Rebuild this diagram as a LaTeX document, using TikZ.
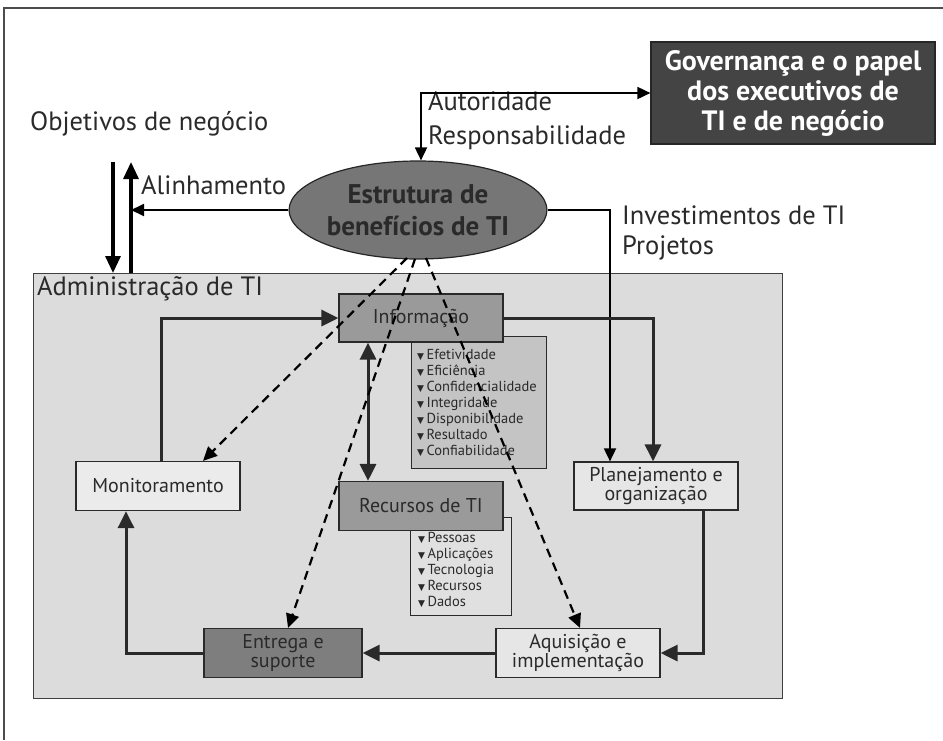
\documentclass[tikz,border=0pt]{standalone}
\usepackage{fontspec}
\setmainfont{PT Sans}
\newfontfamily\symfont{DejaVu Sans}
\usetikzlibrary{arrows.meta,calc,shapes.geometric}
\definecolor{admfill}{HTML}{DCDCDC}
\definecolor{govfill}{HTML}{444444}
\definecolor{ellfill}{HTML}{767676}
\definecolor{midfill}{HTML}{9A9A9A}
\definecolor{ilfill}{HTML}{C4C4C4}
\definecolor{rlfill}{HTML}{E0E0E0}
\definecolor{ltfill}{HTML}{EBEBEB}
\definecolor{plfill}{HTML}{E6E6E6}
\definecolor{entfill}{HTML}{7E7E7E}
\definecolor{ink}{HTML}{2A2A2A}
\newcommand\mytri{{\symfont\fontsize{9}{9}\selectfont ▼}}
\begin{document}
\begin{tikzpicture}[x=1pt,y=-1pt,
  lbl/.style={inner sep=0pt, text=ink, font=\fontsize{26.5}{28}\selectfont, text height=0.72em, text depth=0.2em},
  boxx/.style={draw=ink, line width=1.2pt, inner sep=0pt, align=center, text=ink, font=\fontsize{20}{20}\selectfont},
  item/.style={inner sep=0pt, anchor=west, text=ink, font=\fontsize{14.5}{16}\selectfont, text height=0.72em, text depth=0.2em},
  conn/.style={line width=3pt, draw=ink, -{Triangle[length=17pt,width=16pt]}},
  bothconn/.style={line width=3pt, draw=ink, {Triangle[length=17pt,width=16pt]}-{Triangle[length=17pt,width=16pt]}},
  thinar/.style={line width=1.8pt, draw=black, -{Triangle[length=13pt,width=12pt]}},
  heavy/.style={line width=3.2pt, draw=black, -{Triangle[length=17pt,width=15pt]}},
  dsh/.style={line width=2.2pt, draw=black, dash pattern=on 9pt off 6pt, -{Triangle[length=14pt,width=13pt]}}
]
\useasboundingbox (0,0) rectangle (943,740);
\fill[white] (0,0) rectangle (943,740);
\draw[line width=1.2pt, black!70] (4,740) -- (4,8) -- (943,8);

% admin area
\node[draw=black!75, fill=admfill, line width=1.2pt, minimum width=749pt, minimum height=425pt, anchor=north west, inner sep=0pt] (admin) at (33,273) {};
\node[lbl, anchor=west] (adm) at (37,293) {Administração de TI};

% governance
\node[draw=black!85, fill=govfill, line width=1.2pt, minimum width=284pt, minimum height=102pt, inner sep=0pt, align=center, text=white, font=\bfseries\fontsize{28}{30}\selectfont] (gov) at (793,93) {Governança e o papel\\dos executivos de\\TI e de negócio};

% ellipse
\node[ellipse, draw=black!85, fill=ellfill, line width=1.2pt, minimum width=252pt, minimum height=98pt, inner sep=0pt, align=center, text=ink, font=\bfseries\fontsize{27}{32}\selectfont] (ell) at (418,210) {Estrutura de\\benefícios de TI};

% lists (behind boxes)
\node[draw=ink, fill=ilfill, line width=1.2pt, minimum width=135pt, minimum height=132pt, anchor=north west, inner sep=0pt] (ilist) at (411,336) {};
\node[draw=ink, fill=rlfill, line width=1.2pt, minimum width=101pt, minimum height=98pt, anchor=north west, inner sep=0pt] (rlist) at (410,517) {};
\foreach \t [count=\i] in {Efetividade,Eficiência,Confidencialidade,Integridade,Disponibilidade,Resultado,Confiabilidade}
  \node[item, name=ii\i] at (417,341+16*\i) {\mytri\,\t};
\foreach \t [count=\i] in {Pessoas,Aplicações,Tecnologia,Recursos,Dados}
  \node[item, name=ri\i] at (418,524+16*\i) {\mytri\,\t};

% boxes
\node[boxx, fill=midfill, minimum width=164pt, minimum height=48pt] (info) at (421,318) {Informação};
\node[boxx, fill=midfill, minimum width=164pt, minimum height=49pt] (rec) at (421,506) {Recursos de TI};
\node[boxx, fill=ltfill, minimum width=164pt, minimum height=49pt] (mon) at (158,486) {Monitoramento};
\node[boxx, fill=entfill, minimum width=158pt, minimum height=49pt, font=\fontsize{20}{19}\selectfont] (ent) at (283,653) {Entrega e\\suporte};
\node[boxx, fill=plfill, minimum width=164pt, minimum height=48pt, font=\fontsize{20}{19}\selectfont] (plan) at (656,486) {Planejamento e\\organização};
\node[boxx, fill=plfill, minimum width=164pt, minimum height=49pt, font=\fontsize{20}{19}\selectfont] (aq) at (578,653) {Aquisição e\\implementação};

% labels
\node[lbl, anchor=west] (obj) at (30,128) {Objetivos de negócio};
\node[lbl, anchor=west] (aut1) at (428,108) {Autoridade};
\node[lbl, anchor=west] (aut2) at (428,142) {Responsabilidade};
\node[lbl, anchor=west] (ali) at (141,192) {Alinhamento};
\node[lbl, anchor=west] (inv1) at (622,222) {Investimentos de TI};
\node[lbl, anchor=west] (inv2) at (622,252) {Projetos};

% top connectors
\coordinate (aut) at (421,93);
\draw[thinar, {Triangle[length=13pt,width=12pt]}-{Triangle[length=13pt,width=12pt]}] (aut -| gov.west) -- (aut) -- (aut |- ell.north);
\coordinate (upx) at (131,162);
\coordinate (dnx) at (113,162);
\draw[thinar] (ell.west) -- (ell.west -| upx);
\draw[heavy] (upx |- admin.north) -- (upx);
\draw[heavy] (dnx) -- (dnx |- admin.north);
\coordinate (invx) at (610,212);
\draw[thinar] (ell.east) -| (invx |- plan.north);

% cycle connectors
\draw[conn] (info.east) -| ($(plan.north)+(-3,0)$);
\draw[conn] ($(plan.south)+(47,0)$) |- (aq.east);
\draw[conn] (aq.west) -- (ent.east);
\draw[conn] (ent.west) -| ($(mon.south)+(-32,0)$);
\draw[conn] ($(mon.north)+(3,0)$) |- (info.west);
\draw[bothconn] ($(info.south)+(-53,0)$) -- ($(rec.north)+(-53,0)$);

% dashed
\coordinate (d1) at (407,258);
\coordinate (d2) at (415,259);
\coordinate (d3) at (426,258);
\draw[dsh] (d1) -- ($(mon.north)+(45,0)$);
\draw[dsh] (d2) -- ($(ent.north)+(5,0)$);
\draw[dsh] (d3) -- ($(aq.north)+(2,0)$);
\end{tikzpicture}
\end{document}
